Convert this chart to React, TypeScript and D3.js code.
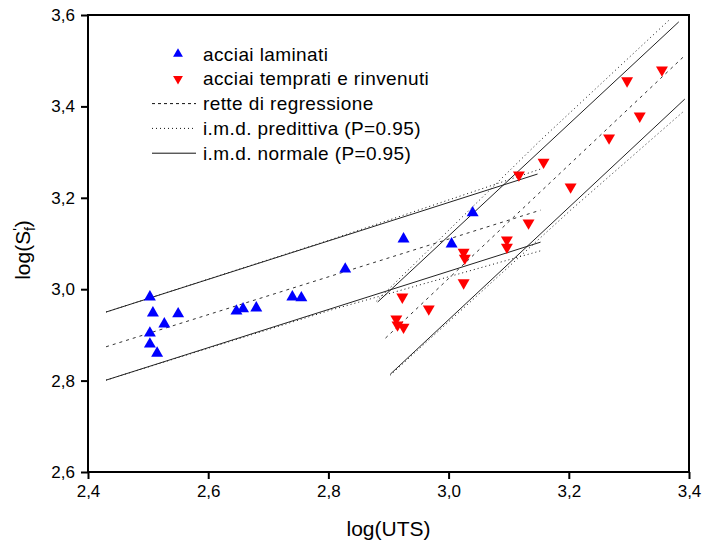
import React, { useEffect, useRef } from "react";
import * as d3 from "d3";

// tick values
const xTicks = [2.4, 2.6, 2.8, 3.0, 3.2, 3.4];
const yTicks = [2.6, 2.8, 3.0, 3.2, 3.4, 3.6];

// acciai laminati: [log(UTS), log(S'f)]
const laminati: [number, number][] = [
  [2.503, 2.983], [2.508, 2.948], [2.55, 2.946], [2.527, 2.924],
  [2.503, 2.904], [2.503, 2.88], [2.515, 2.86], [2.647, 2.952],
  [2.658, 2.957], [2.68, 2.959], [2.74, 2.983], [2.755, 2.981],
  [2.828, 3.044], [2.925, 3.11], [3.005, 3.099], [3.04, 3.167],
];

// acciai temprati e rinvenuti
const temprati: [number, number][] = [
  [3.158, 3.278], [3.117, 3.25], [3.133, 3.145], [3.097, 3.108],
  [3.097, 3.092], [3.025, 3.081], [3.027, 3.068], [3.025, 3.014],
  [2.923, 2.983], [2.967, 2.957], [2.913, 2.935], [2.915, 2.922],
  [2.925, 2.917], [3.203, 3.224], [3.267, 3.331], [3.297, 3.456],
  [3.318, 3.379], [3.355, 3.48],
];

// regression lines and bands
const lamRegr: [number, number][] = [[2.43, 2.874], [3.153, 3.173]];
const lamNormUp: [number, number][] = [[2.43, 2.95], [3.148, 3.252]];
const lamNormLo: [number, number][] = [[2.43, 2.801], [3.153, 3.103]];
const lamPredUp: [number, number][] = [[2.43, 2.95], [2.803, 3.108], [3.153, 3.263]];
const lamPredLo: [number, number][] = [[2.43, 2.801], [2.803, 2.954], [3.153, 3.084]];

const tempRegr: [number, number][] = [[2.895, 2.893], [3.392, 3.51]];
const tempNormUp: [number, number][] = [[2.882, 2.972], [3.383, 3.585]];
const tempNormLo: [number, number][] = [[2.903, 2.814], [3.393, 3.416]];
const tempPredUp: [number, number][] = [[2.88, 2.974], [3.153, 3.326], [3.367, 3.589]];
const tempPredLo: [number, number][] = [[2.903, 2.812], [3.203, 3.173], [3.39, 3.388]];

const legendLabels = [
  "acciai laminati",
  "acciai temprati e rinvenuti",
  "rette di regressione",
  "i.m.d. predittiva (P=0.95)",
  "i.m.d. normale (P=0.95)",
];

const W = 702;
const H = 544;
const FONT = "'Liberation Sans', Arial, sans-serif";

const App = () => {
  const ref = useRef<SVGSVGElement>(null);

  useEffect(() => {
    const svg = d3.select(ref.current);
    svg.selectAll("*").remove();

    const margin = { top: 15, right: 13, bottom: 72, left: 88 };
    const x = d3.scaleLinear().domain([2.4, 3.4]).range([margin.left, W - margin.right]);
    const y = d3.scaleLinear().domain([2.6, 3.6]).range([H - margin.bottom, margin.top]);
    const fmt = (d: number) => d3.format(".1f")(d).replace(".", ",");

    svg.append("defs").append("clipPath").attr("id", "plot-clip")
      .append("rect")
      .attr("x", margin.left).attr("y", margin.top)
      .attr("width", W - margin.left - margin.right)
      .attr("height", H - margin.top - margin.bottom);

    // axes
    const xAxis = svg.append("g")
      .attr("transform", `translate(0,${H - margin.bottom})`)
      .call(d3.axisBottom(x).tickValues(xTicks).tickFormat(fmt).tickSizeInner(7).tickSizeOuter(0).tickPadding(6));
    const yAxis = svg.append("g")
      .attr("transform", `translate(${margin.left},0)`)
      .call(d3.axisLeft(y).tickValues(yTicks).tickFormat(fmt).tickSizeInner(7).tickSizeOuter(0).tickPadding(6));
    [xAxis, yAxis].forEach((g) => {
      g.select(".domain").remove();
      g.selectAll("line").attr("stroke", "#000").attr("stroke-width", 2);
      g.selectAll("text").attr("font-family", FONT).attr("font-size", 17).attr("fill", "#000");
    });

    // frame
    svg.append("rect")
      .attr("x", margin.left).attr("y", margin.top)
      .attr("width", W - margin.left - margin.right)
      .attr("height", H - margin.top - margin.bottom)
      .attr("fill", "none").attr("stroke", "#000").attr("stroke-width", 2);

    // axis titles
    svg.append("text")
      .attr("x", (margin.left + W - margin.right) / 2)
      .attr("y", 536)
      .attr("text-anchor", "middle")
      .attr("font-family", FONT).attr("font-size", 21)
      .text("log(UTS)");

    const yl = svg.append("text")
      .attr("transform", `translate(30,250) rotate(-90)`)
      .attr("text-anchor", "middle")
      .attr("font-family", FONT).attr("font-size", 21);
    yl.append("tspan").text("log(S");
    yl.append("tspan").attr("font-size", 14).attr("dy", -7).text("'");
    yl.append("tspan").attr("font-size", 14).attr("dx", -3).attr("dy", 12).text("f");
    yl.append("tspan").attr("dy", -5).text(")");

    // lines
    const plot = svg.append("g").attr("clip-path", "url(#plot-clip)");
    const line = d3.line<[number, number]>().x((d) => x(d[0])).y((d) => y(d[1]));
    const drawLine = (pts: [number, number][], dash: string | null, color: string) => {
      plot.append("path")
        .attr("d", line(pts))
        .attr("fill", "none")
        .attr("stroke", color)
        .attr("stroke-width", 1)
        .attr("stroke-dasharray", dash);
    };
    [lamPredUp, lamPredLo, tempPredUp, tempPredLo].forEach((p) => drawLine(p, "1,3", "#111"));
    [lamNormUp, lamNormLo, tempNormUp, tempNormLo].forEach((p) => drawLine(p, null, "#222"));
    [lamRegr, tempRegr].forEach((p) => drawLine(p, "3,4", "#333"));

    // points
    const tri = d3.symbol().type(d3.symbolTriangle).size(62);
    plot.selectAll(".lam").data(laminati).enter().append("path")
      .attr("d", tri)
      .attr("transform", (d) => `translate(${x(d[0])},${y(d[1])})`)
      .attr("fill", "#0000ff");
    plot.selectAll(".temp").data(temprati).enter().append("path")
      .attr("d", tri)
      .attr("transform", (d) => `translate(${x(d[0])},${y(d[1])}) rotate(180)`)
      .attr("fill", "#ff0000");

    // legend
    const lg = svg.append("g");
    const smallTri = d3.symbol().type(d3.symbolTriangle).size(42);
    legendLabels.forEach((label, i) => {
      const cy = 54 + i * 24.8;
      if (i === 0) {
        lg.append("path").attr("d", smallTri).attr("fill", "#0000ff")
          .attr("transform", `translate(178,${cy})`);
      } else if (i === 1) {
        lg.append("path").attr("d", smallTri).attr("fill", "#ff0000")
          .attr("transform", `translate(178,${cy}) rotate(180)`);
      } else {
        const dash = i === 2 ? "3,3" : i === 3 ? "1,3" : null;
        lg.append("line")
          .attr("x1", 152).attr("x2", 196).attr("y1", cy).attr("y2", cy)
          .attr("stroke", "#111").attr("stroke-width", 1)
          .attr("stroke-dasharray", dash);
      }
      lg.append("text")
        .attr("x", 203).attr("y", cy).attr("dy", "0.35em")
        .attr("font-family", FONT).attr("font-size", 19)
        .attr("letter-spacing", 0.4)
        .text(label);
    });
  }, []);

  return (
    <svg
      ref={ref}
      width={W}
      height={H}
      style={{ position: "absolute", left: 0, top: 0, background: "#fff" }}
    />
  );
};

export default App;
